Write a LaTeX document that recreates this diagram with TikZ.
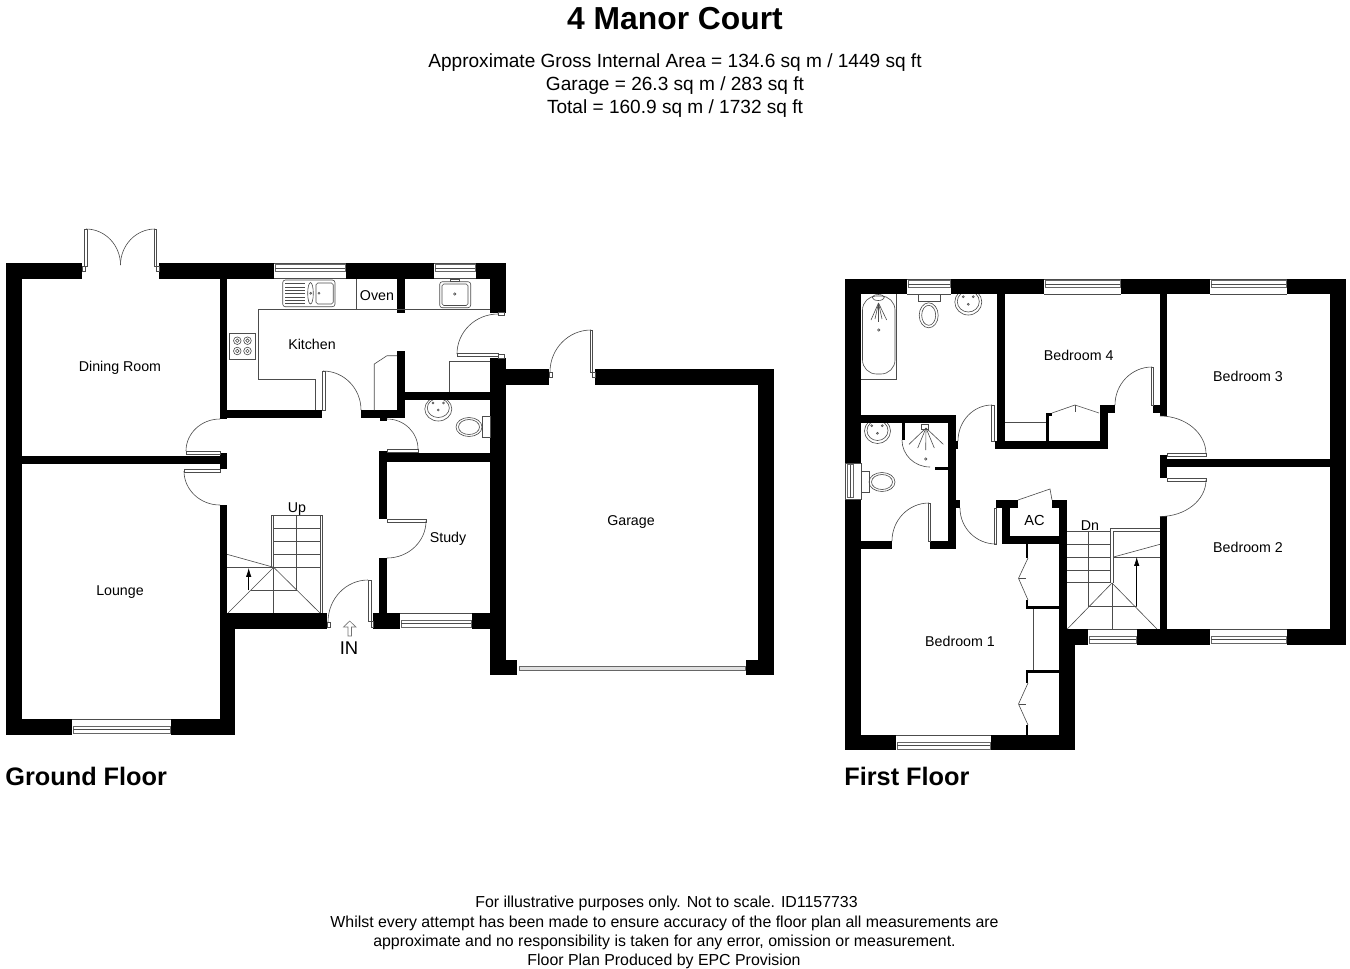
\documentclass[tikz,border=0pt]{standalone}
\usepackage{fontspec}
\setmainfont{Liberation Sans}
\usetikzlibrary{arrows.meta}
\tikzset{
	wall/.style = {fill = black, draw = none},
	fitting/.style = {draw = black!70, line width = 0.35pt},
	leaf/.style = {draw = black!70, line width = 0.35pt, fill = white},
	pane/.style = {draw = black!60, line width = 0.35pt, fill = white},
	room/.style = {font = \fontsize{8.1}{10}\selectfont, inner sep = 0pt, anchor = base},
	info/.style = {font = \fontsize{10.85}{13}\selectfont, inner sep = 0pt, anchor = base},
	small/.style = {font = \fontsize{9.05}{11}\selectfont, inner sep = 0pt, anchor = base},
	floorname/.style = {font = \bfseries\fontsize{14.4}{18}\selectfont, inner sep = 0pt, anchor = base west}
}
\begin{document}
\begin{tikzpicture}[x = 0.02cm, y = -0.02cm]
	\useasboundingbox (0,0) rectangle (1350,968);

	% ground floor walls
	\foreach \xa/\ya/\xb/\yb in {6/263/82/279, 159/263/506/279, 6/263/22/735, 6/719/235/735,
		220/279/227/419, 22/456/220/464, 220/453/227/469, 220/505/227/613, 220/613/327/629,
		220/613/235/735, 220/410/322/418, 361/410/405/418, 397/351/405/418, 397/279/405/313,
		405/392/490/400, 490/263/506/313, 490/358/506/675, 490/660/517/675, 379/451/387/519,
		379/558/387/613, 387/453/490/462, 373/613/506/629, 380/418/387/421,
		506/369/549/385, 595/369/774/385, 758/369/774/675, 746/660/774/675}
		\fill[wall] (\xa,\ya) rectangle (\xb,\yb);

	% first floor walls
	\foreach \xa/\ya/\xb/\yb in {845/279/1346/294, 845/279/861/750, 845/735/1075/750,
		1059/500/1067/629, 1059/629/1075/750, 1059/629/1346/645, 1330/279/1346/645,
		861/415/956/423, 948/415/956/549, 956/441/958/449, 956/500/960/508,
		861/541/892/549, 930/541/956/549, 997/294/1005/449, 995/441/1108/449,
		1100/405/1108/449, 1100/405/1115/413, 1046/413/1049/441, 1046/413/1052/416,
		1160/294/1167/416, 1153/405/1160/413, 1160/455/1167/478, 1167/459/1330/467,
		1160/516/1167/629, 996/500/1018/508, 1002/500/1010/544, 1002/536/1067/544,
		1052/500/1067/508, 1026/544/1028/558, 1026/600/1028/608, 1026/606/1059/609,
		1026/670/1059/673, 1026/670/1028/683, 1026/725/1028/735}
		\fill[wall] (\xa,\ya) rectangle (\xb,\yb);

	% windows, sash towards the outside
	\foreach \xa/\xb/\ya in {274/346/263, 434/476/263, 907/951/279, 1044/1121/279, 1210/1287/279} {
		\fill[white] (\xa,\ya) rectangle (\xb,\ya+16);
		\draw[fitting] (\xa,\ya) -- (\xb,\ya);
		\draw[fitting] (\xa,\ya+15.5) -- (\xb,\ya+15.5);
		\draw[pane] (\xa+1,\ya+1.5) rectangle (\xb-1,\ya+8.5);
		\draw[fitting] (\xa+1,\ya+5) -- (\xb-1,\ya+5);
	}
	\foreach \xa/\xb/\ya in {72/171/719, 400/472/613, 896/991/735, 1088/1137/629, 1210/1287/629} {
		\fill[white] (\xa,\ya) rectangle (\xb,\ya+16);
		\draw[fitting] (\xa,\ya) -- (\xb,\ya);
		\draw[pane] (\xa+1,\ya+7) rectangle (\xb-1,\ya+14);
		\draw[fitting] (\xa+1,\ya+10.5) -- (\xb-1,\ya+10.5);
	}
	\fill[white] (845,463) rectangle (861,499);
	\draw[fitting] (845,463) rectangle (861,499);
	\draw[pane] (847,464.5) rectangle (853,497.5);
	\draw[fitting] (850,464.5) -- (850,497.5);

	% door leaves
	\foreach \xa/\ya/\xb/\yb in {322.5/371/325/410, 186/451/220/454, 184/469/220/472,
		84.5/229/87/266, 82/266/85/271, 154/229/156.7/266, 156/266/159/271,
		387/449/418/452, 387/519/426/522, 368/580/371.5/621, 371/621/373/627, 327/622/330/627,
		457/353/498/356, 498/354/504/358, 498/312/504/315,
		590/330/592.5/372, 592/372/595/377, 549/372/552/377,
		991.7/405/994.5/441, 928/503/930.5/541, 994/508/996.5/544, 1151/367/1153.7/405,
		1167/453.5/1206/456.5, 1167/478/1206/481}
		\draw[leaf] (\xa,\ya) rectangle (\xb,\yb);

	% door swings
	\foreach \xa/\ya/\xb/\yb in {323/371/361/410, 220/419/186/451, 220/505/184/471,
		86/229/120.5/265, 155/229/120.5/265, 387/419/418/449, 387/558/426/521, 368/580/328/622,
		498/314/457/354, 591/330/550/372, 992/405/958/441, 929/503/892/541, 996/544/960/508,
		1152/367/1115/405, 1160/416/1206/454, 1160/516.5/1206/480, 930/467/902/440}
		\draw[fitting] (\xa,\ya) .. controls ({\xa+0.5523*(\xb-\xa)},\ya) and (\xb,{\ya+0.4477*(\yb-\ya)}) .. (\xb,\yb);

	% kitchen units
	\draw[fitting] (490,309) -- (258.7,309) -- (258.7,379) -- (315,379) -- (315,410);
	\draw[fitting] (356.5,279) -- (356.5,309);
	\draw[fitting] (374.3,410) -- (374.3,364) -- (387,355.7) -- (397,355.7);
	\draw[fitting] (449,392) -- (449,361) -- (490,361);
	\draw[fitting] (229,333) rectangle (255,359);
	\foreach \xa in {237.3,247.5}
		\foreach \ya in {340.7,351} {
			\draw[fitting] (\xa,\ya) circle (3.8);
			\draw[fitting] (\xa,\ya) circle (1.8);
		}
	\draw[fitting, rounded corners=1.5pt] (282.7,280) rectangle (335,306.7);
	\draw[fitting, rounded corners=1pt] (316,283) rectangle (333.3,304);
	\foreach \ya in {283.5,287,290.3,293.5,296.8,300,303.3}
		\draw[fitting] (285,\ya) -- (305,\ya);
	\draw[fitting] (310.5,293.3) ellipse (2.8 and 10.7);
	\draw[fitting] (310.7,293.3) circle (1);
	\draw[fitting] (319,293.3) circle (1);
	\draw[fitting, rounded corners=1.5pt] (439.7,281.7) rectangle (470.7,307.7);
	\draw[fitting, rounded corners=1pt] (442,284) rectangle (468,305.5);
	\draw[fitting] (454.7,294) circle (1.2);
	\draw[fitting] (450.5,279) rectangle (459,281.7);

	% cloakroom
	\begin{scope}
		\clip (420,400) rectangle (456,424);
		\draw[fitting] (438.3,409) ellipse (13.5 and 12);
		\draw[fitting] (438.3,408) ellipse (11 and 9.5);
	\end{scope}
	\draw[fitting] (438.3,410) circle (1);
	\draw[fitting] (433,403) circle (1);
	\draw[fitting] (443.5,403) circle (1);
	\draw[leaf] (482,416) rectangle (490,437.7);
	\draw[fitting] (469,427) ellipse (13 and 9.5);
	\draw[fitting] (469,427) ellipse (10.5 and 7.5);

	% stairs up
	\foreach \ya in {528.7,541.3,554.3}
		\draw[fitting] (273.7,\ya) -- (320,\ya);
	\draw[fitting] (227,567.3) -- (320,567.3);
	\draw[fitting] (320,515) -- (271.7,515) -- (271.7,567.3);
	\draw[fitting] (273.7,515) -- (273.7,613);
	\draw[fitting] (296.7,515) -- (296.7,590.3) -- (250.7,590.3);
	\draw[fitting] (320,515) -- (320,613);
	\draw[fitting] (320,515) -- (322.7,515) -- (322.7,613);
	\draw[fitting] (227,554.3) -- (273.7,567.3) -- (228,613);
	\draw[fitting] (273.7,567.3) -- (320,613);
	\draw[line width=0.35pt, -{Latex[length=5pt,width=3pt]}] (248.7,590.3) -- (248.7,568);

	% way in
	\draw[draw=black!55, line width=0.35pt] (348,636) -- (348,627) -- (343.5,627) -- (349.7,621) -- (356,627) -- (351.5,627) -- (351.5,636) -- cycle;

	% garage door
	\draw[draw=black!60, line width=0.45pt, fill=black!12] (519.3,666) rectangle (745,670);

	% bathroom
	\draw[fitting] (861,379.3) -- (896.7,379.3) -- (896.7,294);
	\draw[fitting, rounded corners=8pt] (862.5,296) rectangle (895,374);
	\foreach \xa/\ya in {871/320,875/319,878.5/322,882/319,886.7/320}
		\draw[fitting] (878.5,303) -- (\xa,\ya);
	\draw[fitting] (878.7,330) circle (1.2);
	\draw[fitting] (878.3,297.5) ellipse (6 and 3);
	\draw[leaf] (918.3,294) rectangle (940,301.7);
	\draw[fitting] (928.7,315.3) ellipse (9.5 and 12.5);
	\draw[fitting] (928.7,315.3) ellipse (7 and 10);
	\begin{scope}
		\clip (950,294) rectangle (990,320);
		\draw[fitting] (968.3,302) ellipse (13.5 and 13);
		\draw[fitting] (968.3,301.5) ellipse (11 and 10.5);
	\end{scope}
	\draw[fitting] (968.3,304.3) circle (1);
	\draw[fitting] (963.3,296.7) circle (1);
	\draw[fitting] (973.3,296.7) circle (1);

	% en suite
	\begin{scope}
		\clip (860,423) rectangle (895,448);
		\draw[fitting] (877.5,431) ellipse (13 and 12.5);
		\draw[fitting] (877.5,430.5) ellipse (10.5 and 10);
	\end{scope}
	\draw[fitting] (877.4,433.3) circle (1);
	\draw[fitting] (871.7,425.7) circle (1);
	\draw[fitting] (882.3,425.7) circle (1);
	\fill[wall] (901.7,423) rectangle (905,440);
	\fill[wall] (934.5,467) rectangle (948,469.7);
	\foreach \xa/\ya in {909/444.3,917.7/448,925.7/450,934.3/448,943.3/444.3}
		\draw[fitting] (926,428) -- (\xa,\ya);
	\draw[fitting] (925.7,459) circle (1.2);
	\draw[fitting] (921.7,424) rectangle (928.5,429);
	\draw[leaf] (861,471.7) rectangle (869,492.3);
	\draw[fitting] (882,482) ellipse (13 and 9.5);
	\draw[fitting] (882,482) ellipse (10.5 and 7.5);

	% bedroom 4 cupboards
	\draw[fitting] (1005,422.7) -- (1046,422.7);
	\draw[fitting] (1052,413) -- (1075,405) -- (1099,413);
	\draw[fitting] (1075,405) -- (1075,412);

	% airing cupboard
	\draw[fitting] (1018,500) -- (1050,489) -- (1052,500);

	% wardrobes
	\draw[fitting] (1028,558) -- (1018.5,578.3) -- (1028,600);
	\draw[fitting] (1018.5,578.3) -- (1026,578.3);
	\draw[fitting] (1033.7,609) -- (1033.7,670);
	\draw[fitting] (1028,683) -- (1018.5,704) -- (1028,725);
	\draw[fitting] (1018.5,704) -- (1026,704);

	% stairs down
	\foreach \ya in {531.3,544,557,570,582.7}
		\draw[fitting] (1067,\ya) -- (1111,\ya);
	\draw[fitting] (1113.5,557) -- (1160,557);
	\draw[fitting] (1113.5,557) -- (1160,544.3);
	\draw[fitting] (1160,528.5) -- (1110.7,528.5) -- (1110.7,583);
	\draw[fitting] (1160,531.7) -- (1113.5,531.7) -- (1113.5,583);
	\draw[fitting] (1112,583) -- (1112,629);
	\draw[fitting] (1088.7,531) -- (1088.7,605.8) -- (1136.7,605.8);
	\draw[fitting] (1067.3,629) -- (1112,583) -- (1157,629);
	\draw[line width=0.35pt, -{Latex[length=5pt,width=3pt]}] (1136.7,605.8) -- (1136.7,557);

	% texts
	\node[font = \bfseries\fontsize{18.1}{21}\selectfont, inner sep = 0pt, anchor = base] (title) at (675,29.5) {4 Manor Court};
	\node[info] (area) at (675,67) {Approximate Gross Internal Area = 134.6 sq m / 1449 sq ft};
	\node[info] (garagearea) at (675,90) {Garage = 26.3 sq m / 283 sq ft};
	\node[info] (total) at (675,113) {Total = 160.9 sq m / 1732 sq ft};
	\node[room] (dining) at (120,371) {Dining Room};
	\node[room] (lounge) at (120,595) {Lounge};
	\node[room] (kitchen) at (312,349) {Kitchen};
	\node[room] (oven) at (377,300) {Oven};
	\node[room] (up) at (297,512) {Up};
	\node[room] (study) at (448,542) {Study};
	\node[room] (garage) at (631,525) {Garage};
	\node[font = \fontsize{10.5}{13}\selectfont, inner sep = 0pt, anchor = base] (in) at (349,654.3) {IN};
	\node[room] (bedfour) at (1078.7,360) {Bedroom 4};
	\node[room] (bedthree) at (1248,381) {Bedroom 3};
	\node[room] (bedtwo) at (1248,552) {Bedroom 2};
	\node[room] (bedone) at (960,646) {Bedroom 1};
	\node[room, font = \fontsize{8.3}{11}\selectfont] (ac) at (1034.5,525.5) {AC};
	\node[room] (dn) at (1090,530) {Dn};
	\node[floorname] (ground) at (5,785) {Ground Floor};
	\node[floorname] (first) at (844,785) {First Floor};
	\node[small] (foota) at (666.5,907) {For illustrative purposes only. Not to scale. ID1157733};
	\node[small] (footb) at (664.5,927) {Whilst every attempt has been made to ensure accuracy of the floor plan all measurements are};
	\node[small] (footc) at (664.5,946) {approximate and no responsibility is taken for any error, omission or measurement.};
	\node[small] (footd) at (664,965) {Floor Plan Produced by EPC Provision};
\end{tikzpicture}
\end{document}
